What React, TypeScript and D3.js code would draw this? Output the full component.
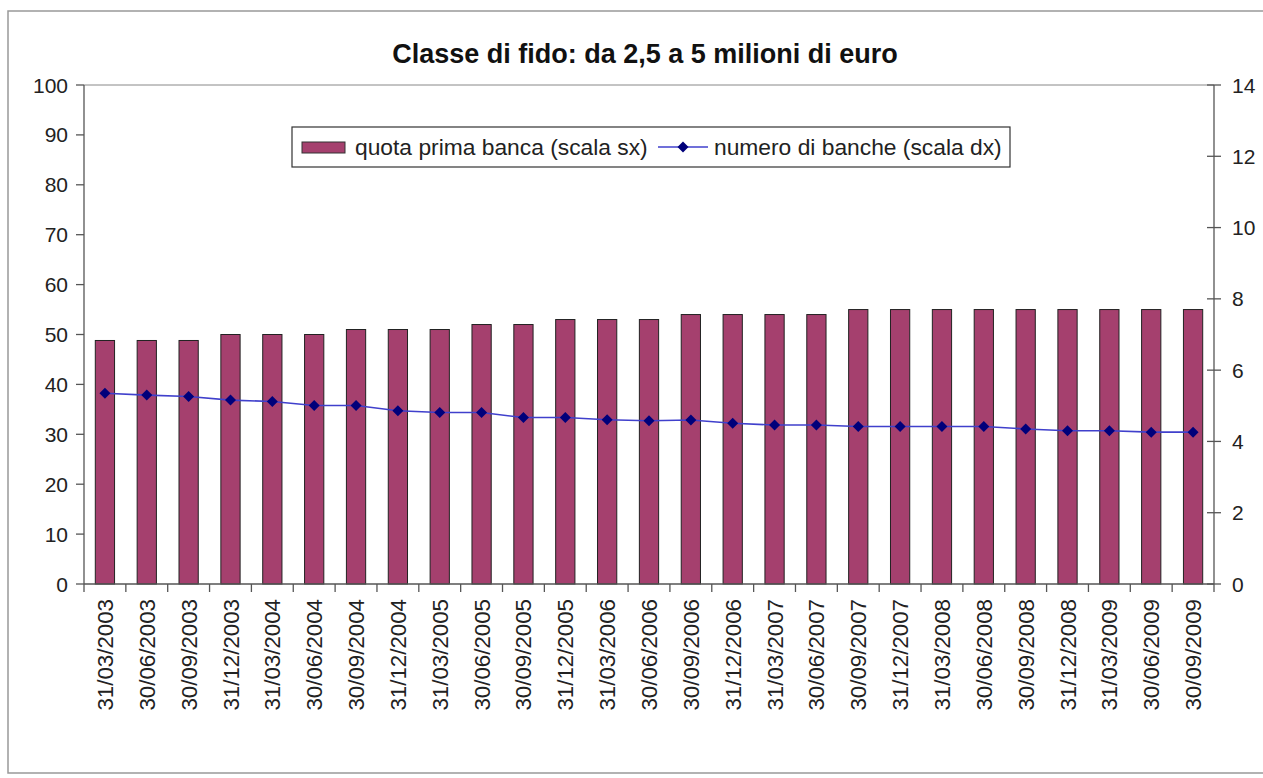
import React from 'react'
import * as d3 from 'd3'

const dates = [
  '31/03/2003', '30/06/2003', '30/09/2003', '31/12/2003',
  '31/03/2004', '30/06/2004', '30/09/2004', '31/12/2004',
  '31/03/2005', '30/06/2005', '30/09/2005', '31/12/2005',
  '31/03/2006', '30/06/2006', '30/09/2006', '31/12/2006',
  '31/03/2007', '30/06/2007', '30/09/2007', '31/12/2007',
  '31/03/2008', '30/06/2008', '30/09/2008', '31/12/2008',
  '31/03/2009', '30/06/2009', '30/09/2009',
]

// quota prima banca (scala sx)
const quotaPrimaBanca = [
  48.8, 48.8, 48.8, 50, 50, 50, 51, 51, 51, 52, 52, 53, 53, 53,
  54, 54, 54, 54, 55, 55, 55, 55, 55, 55, 55, 55, 55,
]

// numero di banche (scala dx)
const numeroBanche = [
  5.35, 5.3, 5.26, 5.16, 5.12, 5.01, 5.01, 4.86, 4.81, 4.81, 4.67, 4.67, 4.61, 4.58,
  4.6, 4.51, 4.46, 4.46, 4.42, 4.42, 4.42, 4.42, 4.35, 4.3, 4.3, 4.26, 4.26,
]

const leftTicks = [0, 10, 20, 30, 40, 50, 60, 70, 80, 90, 100]
const rightTicks = [0, 2, 4, 6, 8, 10, 12, 14]

const title = 'Classe di fido: da 2,5 a 5 milioni di euro'
const legendBar = 'quota prima banca (scala sx)'
const legendLine = 'numero di banche (scala dx)'

const W = 1263
const H = 778
const plot = { left: 84, right: 1214, top: 85, bottom: 584 }
const font = '"Liberation Sans", Arial, sans-serif'
const barColor = '#a5406e'
const lineColor = '#4040cc'
const markerColor = '#00007a'
const axisColor = '#555'

// diamond marker, a square turned 45 degrees
const diamond = 'M0,-5.5L5.5,0L0,5.5L-5.5,0Z'

export default function App() {
  const x = d3
    .scaleBand<string>()
    .domain(dates)
    .range([plot.left, plot.right])
    .paddingInner(0.54)
    .paddingOuter(0.27)
  const step = (plot.right - plot.left) / dates.length
  const yL = d3.scaleLinear().domain([0, 100]).range([plot.bottom, plot.top])
  const yR = d3.scaleLinear().domain([0, 14]).range([plot.bottom, plot.top])

  const cx = (d: string) => (x(d) ?? 0) + x.bandwidth() / 2
  const line = d3
    .line<number>()
    .x((_, i) => cx(dates[i]))
    .y((v) => yR(v))

  return (
    <svg
      width={W}
      height={H}
      style={{ position: 'absolute', left: 0, top: 0, background: '#fff' }}
      fontFamily={font}
    >
      <rect x={8} y={11} width={W + 10} height={762} fill="#fff" stroke="#999" strokeWidth={1.5} />

      <text x={645} y={63} textAnchor="middle" fontSize={27} fontWeight="bold" fill="#111">
        {title}
      </text>

      {/* plot frame top */}
      <line x1={plot.left} x2={plot.right} y1={plot.top} y2={plot.top} stroke="#888" />

      {/* bars */}
      {dates.map((d, i) => (
        <rect
          key={d}
          x={x(d)}
          y={yL(quotaPrimaBanca[i])}
          width={x.bandwidth()}
          height={plot.bottom - yL(quotaPrimaBanca[i])}
          fill={barColor}
          stroke="#222"
          strokeWidth={1}
        />
      ))}

      {/* line */}
      <path d={line(numeroBanche) ?? ''} fill="none" stroke={lineColor} strokeWidth={1.6} />
      {numeroBanche.map((v, i) => (
        <path key={i} d={diamond} transform={`translate(${cx(dates[i])},${yR(v)})`} fill={markerColor} />
      ))}

      {/* left axis */}
      <line x1={plot.left} x2={plot.left} y1={plot.top} y2={plot.bottom} stroke={axisColor} strokeWidth={1.3} />
      {leftTicks.map((t) => (
        <g key={t}>
          <line x1={plot.left - 8} x2={plot.left} y1={yL(t)} y2={yL(t)} stroke={axisColor} strokeWidth={1.3} />
          <text x={68} y={yL(t)} dy="0.36em" textAnchor="end" fontSize={21} fill="#222">
            {t}
          </text>
        </g>
      ))}

      {/* right axis */}
      <line x1={plot.right} x2={plot.right} y1={plot.top} y2={plot.bottom} stroke={axisColor} strokeWidth={1.3} />
      {rightTicks.map((t) => (
        <g key={t}>
          <line x1={plot.right - 7} x2={plot.right + 7} y1={yR(t)} y2={yR(t)} stroke={axisColor} strokeWidth={1.3} />
          <text x={1232} y={yR(t)} dy="0.36em" textAnchor="start" fontSize={21} fill="#222">
            {t}
          </text>
        </g>
      ))}

      {/* x axis */}
      <line x1={plot.left} x2={plot.right} y1={plot.bottom} y2={plot.bottom} stroke={axisColor} strokeWidth={1.3} />
      {d3.range(dates.length + 1).map((i) => (
        <line
          key={i}
          x1={plot.left + i * step}
          x2={plot.left + i * step}
          y1={plot.bottom}
          y2={plot.bottom + 8}
          stroke={axisColor}
          strokeWidth={1.3}
        />
      ))}
      {dates.map((d) => (
        <text
          key={d}
          transform={`translate(${cx(d)},599) rotate(-90)`}
          dy="0.36em"
          textAnchor="end"
          fontSize={22.3}
          fill="#222"
        >
          {d}
        </text>
      ))}

      {/* legend */}
      <rect x={292} y={127} width={718} height={40} fill="#fff" stroke="#333" strokeWidth={1.2} />
      <rect x={302} y={142} width={43} height={11} fill={barColor} stroke="#333" />
      <text x={355} y={155} fontSize={22.8} fill="#222">
        {legendBar}
      </text>
      <line x1={658} x2={708} y1={147} y2={147} stroke={lineColor} strokeWidth={1.6} />
      <path d={diamond} transform="translate(683,147)" fill={markerColor} />
      <text x={714} y={155} fontSize={22.8} fill="#222">
        {legendLine}
      </text>
    </svg>
  )
}
